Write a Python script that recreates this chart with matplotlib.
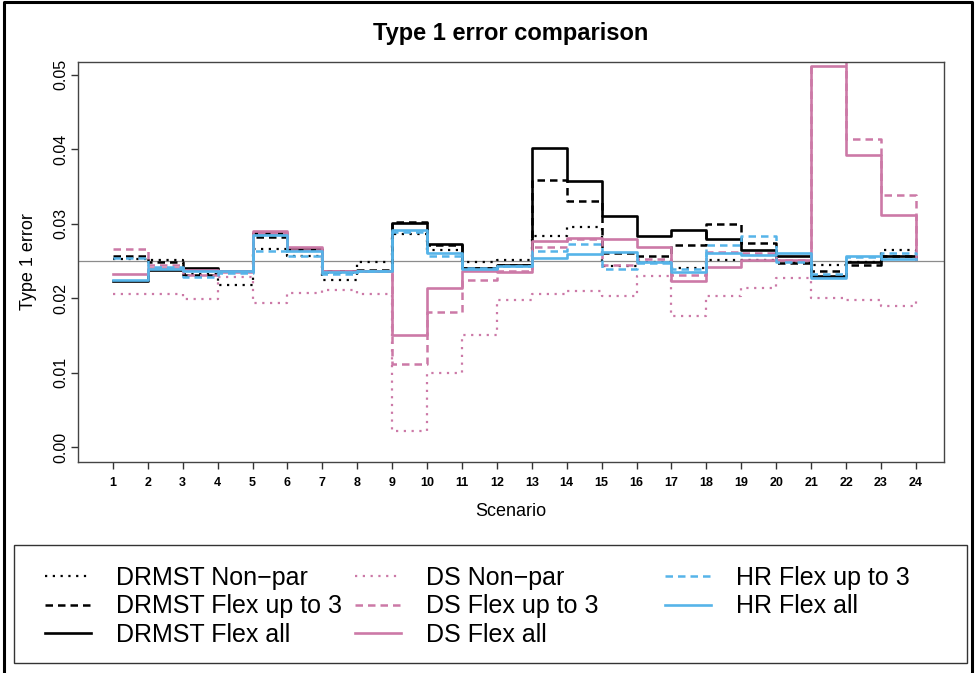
import matplotlib
matplotlib.use('Agg')
import matplotlib.pyplot as plt
from matplotlib.lines import Line2D
from matplotlib.patches import Rectangle

plt.rcParams['font.family'] = ['Liberation Sans', 'DejaVu Sans']

# Datos: error tipo 1 por escenario
scenario = list(range(1, 25))

drmst_np = [0.0253, 0.0251, 0.0232, 0.0218, 0.0266, 0.0256, 0.0225, 0.0248, 0.0286, 0.0264, 0.0248, 0.0251,
            0.0283, 0.0295, 0.0243, 0.0249, 0.0241, 0.0251, 0.0251, 0.0249, 0.0244, 0.0249, 0.0264, 0.0262]
drmst_f3 = [0.0257, 0.0248, 0.0231, 0.0236, 0.0282, 0.0264, 0.0235, 0.0238, 0.0302, 0.0271, 0.0241, 0.0244,
            0.0359, 0.0331, 0.0261, 0.0257, 0.0271, 0.0300, 0.0274, 0.0247, 0.0236, 0.0244, 0.0257, 0.0258]
drmst_fa = [0.0223, 0.0238, 0.0240, 0.0237, 0.0288, 0.0266, 0.0237, 0.0237, 0.0301, 0.0272, 0.0241, 0.0244,
            0.0401, 0.0357, 0.0310, 0.0283, 0.0291, 0.0280, 0.0264, 0.0256, 0.0230, 0.0249, 0.0256, 0.0253]
ds_np = [0.0205, 0.0205, 0.0199, 0.0229, 0.0194, 0.0207, 0.0211, 0.0205, 0.0022, 0.0099, 0.0151, 0.0197,
         0.0205, 0.0210, 0.0203, 0.0230, 0.0176, 0.0203, 0.0213, 0.0227, 0.0200, 0.0198, 0.0189, 0.0198]
ds_f3 = [0.0266, 0.0245, 0.0231, 0.0235, 0.0287, 0.0265, 0.0236, 0.0237, 0.0112, 0.0181, 0.0224, 0.0237,
         0.0269, 0.0279, 0.0244, 0.0252, 0.0231, 0.0262, 0.0261, 0.0251, 0.0530, 0.0413, 0.0339, 0.0263]
ds_fa = [0.0232, 0.0241, 0.0238, 0.0236, 0.0290, 0.0268, 0.0237, 0.0236, 0.0151, 0.0213, 0.0236, 0.0235,
         0.0277, 0.0281, 0.0280, 0.0268, 0.0223, 0.0242, 0.0251, 0.0251, 0.0511, 0.0392, 0.0312, 0.0252]
hr_f3 = [0.0254, 0.0242, 0.0229, 0.0234, 0.0263, 0.0256, 0.0233, 0.0237, 0.0289, 0.0257, 0.0240, 0.0243,
         0.0263, 0.0272, 0.0239, 0.0247, 0.0239, 0.0271, 0.0283, 0.0249, 0.0232, 0.0255, 0.0261, 0.0258]
hr_fa = [0.0224, 0.0239, 0.0236, 0.0236, 0.0285, 0.0263, 0.0235, 0.0237, 0.0292, 0.0261, 0.0239, 0.0243,
         0.0254, 0.0259, 0.0262, 0.0248, 0.0235, 0.0260, 0.0258, 0.0261, 0.0227, 0.0256, 0.0252, 0.0252]

alpha_nominal = 0.025

pink = '#CC79A7'
blue = '#56B4E9'
dotted = (0, (1, 2.5))
dashed = (0, (3, 2))

series = [
    (drmst_np, 'DRMST Non\u2212par', 'black', dotted, 1.6),
    (drmst_f3, 'DRMST Flex up to 3', 'black', dashed, 1.8),
    (drmst_fa, 'DRMST Flex all', 'black', '-', 1.9),
    (ds_np, 'DS Non\u2212par', pink, dotted, 1.6),
    (ds_f3, 'DS Flex up to 3', pink, dashed, 1.8),
    (ds_fa, 'DS Flex all', pink, '-', 1.9),
    (hr_f3, 'HR Flex up to 3', blue, dashed, 1.8),
    (hr_fa, 'HR Flex all', blue, '-', 1.9),
]

fig = plt.figure(figsize=(9.75, 6.73), dpi=100)
ax = fig.add_axes([0.080, 0.3135, 0.888, 0.5944])

handles = []
for vals, label, col, ls, lw in series:
    h, = ax.plot(scenario, vals, drawstyle='steps-post', color=col, linestyle=ls,
                 linewidth=lw, label=label)
    handles.append(h)

ax.axhline(alpha_nominal, color='#8c8c8c', linewidth=0.9, zorder=0)

ax.set_xlim(0.0, 24.8)
ax.set_ylim(-0.002, 0.0517)
ax.set_xticks(scenario)
ax.set_xticklabels([str(s) for s in scenario], fontsize=9, fontweight='bold')
ax.set_yticks([0.0, 0.01, 0.02, 0.03, 0.04, 0.05])
ax.set_yticklabels(['0.00', '0.01', '0.02', '0.03', '0.04', '0.05'], fontsize=11.5,
                   rotation=90, va='center')
ax.tick_params(axis='both', length=5, width=1, color='#333333')
ax.tick_params(axis='x', pad=6)
ax.tick_params(axis='y', pad=2)
for sp in ax.spines.values():
    sp.set_color('#444444')
    sp.set_linewidth(1.0)

ax.set_title('Type 1 error comparison', fontsize=17, fontweight='bold', pad=16)
ax.set_xlabel('Scenario', fontsize=13, labelpad=10)
ax.set_ylabel('Type 1 error', fontsize=13, labelpad=12)

# Leyenda en tres columnas de igual ancho (como en R)
fig.add_artist(Rectangle((0.0144, 0.0149), 0.9774, 0.1753, transform=fig.transFigure,
                         fill=False, edgecolor='#333333', linewidth=1.0))
col_x = [0.046, 0.364, 0.682]
groups = [handles[0:3], handles[3:6], handles[6:8]]
for x0, hs in zip(col_x, groups):
    fig.legend(handles=hs, loc='upper left', bbox_to_anchor=(x0, 0.159),
               bbox_transform=fig.transFigure, frameon=False, fontsize=18,
               handlelength=1.85, handletextpad=1.0, labelspacing=0.18, borderpad=0,
               borderaxespad=0)

# Marco exterior
frame = Line2D([0.004, 0.004, 0.997, 0.997], [0.0, 0.997, 0.997, 0.0],
               transform=fig.transFigure, color='black', linewidth=2.2)
fig.add_artist(frame)

plt.savefig('out.png', dpi=100)
